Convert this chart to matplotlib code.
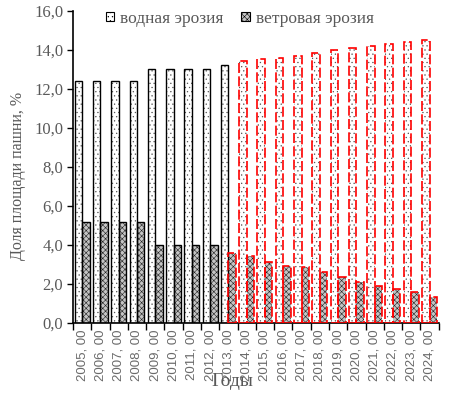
import matplotlib
matplotlib.use("Agg")
import matplotlib.pyplot as plt
import numpy as np
from matplotlib.patches import Patch

years = [f"{y}, 00" for y in range(2005, 2025)]
water = [12.4, 12.4, 12.4, 12.4, 13.0, 13.0, 13.0, 13.0, 13.2, 13.4,
         13.5, 13.6, 13.7, 13.85, 14.0, 14.1, 14.2, 14.3, 14.4, 14.5]
wind = [5.15, 5.15, 5.15, 5.15, 4.0, 4.0, 4.0, 4.0, 3.6, 3.4,
        3.1, 2.9, 2.85, 2.6, 2.35, 2.1, 1.9, 1.75, 1.55, 1.3]
first_forecast_water = 9   # 2014
first_forecast_wind = 8    # 2013

TXT = "#595959"
serif = "Liberation Serif"
plt.rcParams["hatch.linewidth"] = 0.4

fig = plt.figure(figsize=(4.67, 3.93), dpi=100)
ax = fig.add_axes([73/467, 1-322.7/393, (438.7-73)/467, (322.7-10.7)/393])

x = np.arange(len(years))
w = 0.41
xw = x - w/2
xv = x + w/2

ax.bar(xw, water, w, facecolor="white", edgecolor="#555555", hatch="....", linewidth=0, zorder=2)
ax.bar(xv, wind, w, facecolor="#c4c4c4", edgecolor="#222222", hatch="xxxxxx", linewidth=0, zorder=2)

for i in range(len(years)):
    if i >= first_forecast_water:
        ax.bar(xw[i], water[i], w, fill=False, edgecolor="red", linestyle=(0, (6, 2)), linewidth=1.2, zorder=3)
    else:
        ax.bar(xw[i], water[i], w, fill=False, edgecolor="black", linewidth=1.0, zorder=3)
    if i >= first_forecast_wind:
        ax.bar(xv[i], wind[i], w, fill=False, edgecolor="red", linestyle=(0, (6, 2)), linewidth=1.2, zorder=3)
    else:
        ax.bar(xv[i], wind[i], w, fill=False, edgecolor="black", linewidth=1.0, zorder=3)

ax.set_xlim(-0.5, len(years) - 0.5)
ax.set_ylim(0, 16)
ax.set_yticks(np.arange(0, 16.1, 2))
ax.set_yticklabels([f"{v:.1f}".replace(".", ",") for v in np.arange(0, 16.1, 2)],
                   fontfamily=serif, fontsize=12, color=TXT)
ax.set_xticks(np.arange(-0.5, len(years), 1), minor=False)
ax.set_xticklabels([])
ax.set_xticks(x, minor=True)
ax.set_xticklabels(years, minor=True, rotation=90, fontfamily="Liberation Sans",
                   fontsize=9.5, color="#6a6a6a")
ax.tick_params(axis="x", which="minor", length=0, pad=5)
ax.tick_params(axis="x", which="major", length=5, direction="out", width=1)
ax.tick_params(axis="y", length=4, direction="out", width=1, pad=3)

for s in ["top", "right"]:
    ax.spines[s].set_visible(False)
ax.spines["left"].set_linewidth(1.2)
ax.spines["bottom"].set_linewidth(1.2)

ax.set_ylabel("Доля площади пашни, %", fontfamily=serif, fontsize=11.5, color=TXT)
ax.yaxis.set_label_coords(-0.128, 0.47)
fig.text(232/467, 1-382/393, "Годы", fontfamily=serif, fontsize=14, color=TXT,
         ha="center", va="center")

h1 = Patch(facecolor="white", edgecolor="black", hatch="....", linewidth=0.8)
h2 = Patch(facecolor="#c4c4c4", edgecolor="black", hatch="xxxxxx", linewidth=0.8)
leg = ax.legend([h1, h2], ["водная эрозия", "ветровая эрозия"], loc="upper left",
                bbox_to_anchor=(97/467, 1-2/393), bbox_transform=fig.transFigure,
                ncol=2, frameon=False, handlelength=0.5, handleheight=0.5,
                handletextpad=0.35, columnspacing=1.0, borderpad=0,
                prop={"family": serif, "size": 12.5})
for t in leg.get_texts():
    t.set_color(TXT)

fig.savefig("out.png", dpi=100)
